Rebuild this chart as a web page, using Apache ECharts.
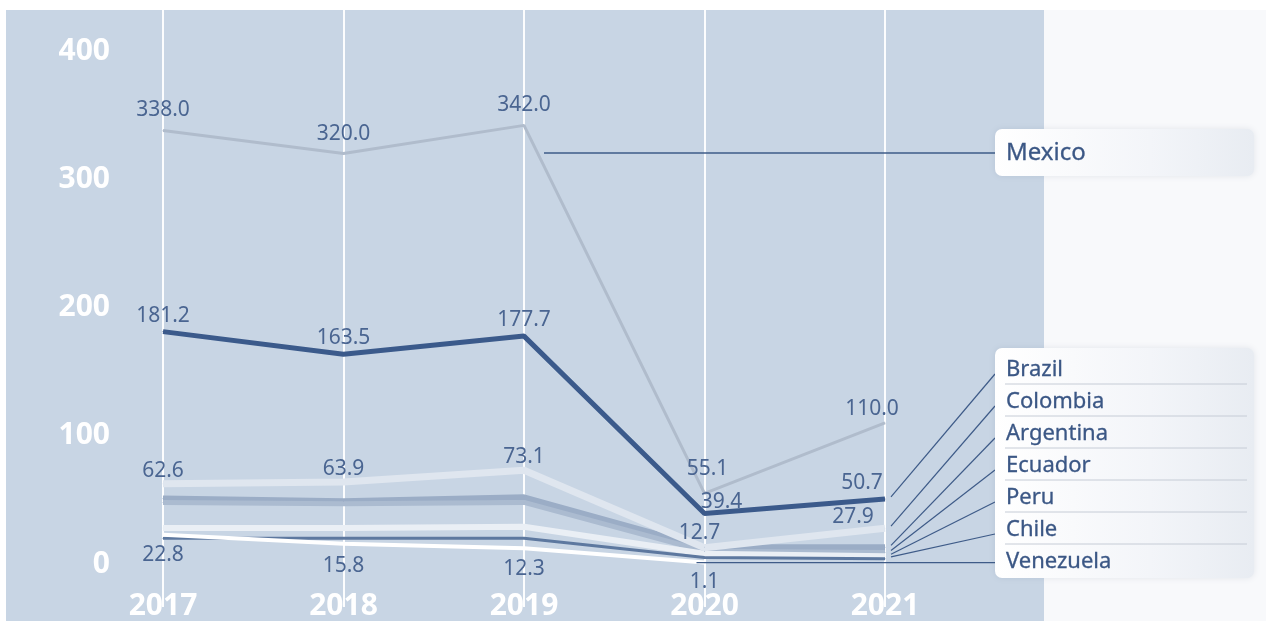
<!DOCTYPE html>
<html><head><meta charset="utf-8">
<script src="https://cdn.jsdelivr.net/npm/echarts@6/dist/echarts.min.js"></script>
<style>html,body{margin:0;padding:0;background:#fbfcfd}#c{width:1266px;height:621px}</style>
</head><body><div id="c"></div>
<script>
// ---- data ----
const years = ['2017', '2018', '2019', '2020', '2021'];
const yTicks = [0, 100, 200, 300, 400];
const mexico = [338.0, 320.0, 342.0, 55.1, 110.0];
const brazil = [181.2, 163.5, 177.7, 39.4, 50.7];
const colombia = [62.6, 63.9, 73.1, 12.7, 27.9];
const argentina = [51, 49, 52, 13, 13];
const ecuador = [48, 47, 48, 10, 9];
const peru = [28, 28, 29, 8, 6];
const chile = [20, 20, 20, 5, 4];
const venezuela = [22.8, 15.8, 12.3, 1.1, null];
const legendRows = ['Brazil', 'Colombia', 'Argentina', 'Ecuador', 'Peru', 'Chile', 'Venezuela'];

// ---- styling ----
const FONT = '"Noto Sans", "Liberation Sans", sans-serif';
const LBL = '#4a6591';
const seriesDefs = [
  { name: 'Mexico', data: mexico, color: '#b0bccc', width: 3, label: 'top', dist: 9,
    offsets: { 3: [3, -4], 4: [-13, 6] } },
  { name: 'Argentina', data: argentina, color: '#9badc6', width: 6 },
  { name: 'Ecuador', data: ecuador, color: '#abbbd0', width: 5 },
  { name: 'Peru', data: peru, color: '#eaeff5', width: 6 },
  { name: 'Chile', data: chile, color: '#5d789f', width: 3 },
  { name: 'Colombia', data: colombia, color: '#dfe6ef', width: 7, label: 'top', dist: 2,
    offsets: { 3: [-5, -2], 4: [-32, 2] } },
  { name: 'Venezuela', data: venezuela, color: '#ffffff', width: 4, label: 'bottom', dist: 9,
    offsets: { 1: [0, 2], 2: [0, 1], 3: [0, -1] } },
  { name: 'Brazil', data: brazil, color: '#3b5a8b', width: 5, label: 'top', dist: 5,
    offsets: { 3: [17, 5], 4: [-23, 0] } }
];

const series = seriesDefs.map(d => ({
  name: d.name,
  type: 'line',
  xAxisIndex: 1, yAxisIndex: 1,
  symbol: 'circle',
  symbolSize: 1,
  showSymbol: true,
  itemStyle: { color: d.color },
  silent: true,
  lineStyle: { color: d.color, width: d.width },
  emphasis: { disabled: true },
  label: d.label ? {
    show: true, position: d.label, distance: d.dist,
    color: LBL, fontSize: 21, fontFamily: FONT,
    formatter: p => (p.value == null ? '' : Number(p.value).toFixed(1))
  } : { show: false },
  data: d.data.map((v, i) => {
    const item = { value: v };
    if (d.offsets && d.offsets[i]) item.label = { offset: d.offsets[i] };
    return item;
  })
}));

const chart = echarts.init(document.getElementById('c'));
const option = {
  backgroundColor: '#f8f9fb',
  animation: false,
  grid: [
    { left: 163, right: 381, top: 10, bottom: 0 },
    { left: 163, right: 381, top: 51, bottom: 57 }
  ],
  xAxis: [
    { gridIndex: 0, type: 'category', data: years, boundaryGap: false,
      axisLine: { show: false }, axisTick: { show: false },
      splitLine: { show: true, lineStyle: { color: 'rgba(255,255,255,0.95)', width: 2 } },
      axisLabel: { color: '#ffffff', fontWeight: 'bold', fontSize: 30, fontFamily: FONT, margin: -16 } },
    { gridIndex: 1, type: 'category', data: years, boundaryGap: false, show: false }
  ],
  yAxis: [
    { gridIndex: 0, type: 'value', show: false },
    { gridIndex: 1, type: 'value', min: yTicks[0], max: yTicks[yTicks.length - 1], interval: 100,
      axisLine: { show: false }, axisTick: { show: false }, splitLine: { show: false },
      axisLabel: { color: '#ffffff', fontWeight: 'bold', fontSize: 30, fontFamily: FONT, margin: 53 } }
  ],
  series: series,
  graphic: [
    { type: 'rect', z: -100, silent: true, shape: { x: 0, y: 0, width: 1266, height: 10 }, style: { fill: '#ffffff' } },
    { type: 'rect', z: -100, silent: true, shape: { x: 0, y: 0, width: 6, height: 621 }, style: { fill: '#ffffff' } },
    { type: 'rect', z: -100, silent: true, shape: { x: 6, y: 10, width: 1038, height: 611 }, style: { fill: '#c8d5e4' } }
  ]
};
chart.setOption(option);

// ---- legend boxes and leader lines ----
const px = (i, v) => chart.convertToPixel({ gridIndex: 1 }, [i, v]);
const boxX = 995, boxW = 259;
const rowTop = 354, rowH = 32;
const els = [];
const boxFill = new echarts.graphic.LinearGradient(0, 0, 1, 0, [
  { offset: 0, color: '#ffffff' }, { offset: 0.6, color: '#f3f5f9' }, { offset: 1, color: '#e8ecf2' }
]);
const TXT = '#3b5785';
// Mexico box
els.push({ type: 'rect', z: 50, silent: true, shape: { x: boxX, y: 129, width: boxW, height: 47, r: 7 },
  style: { fill: boxFill, shadowBlur: 6, shadowColor: 'rgba(60,80,110,0.12)' } });
els.push({ type: 'text', z: 51, silent: true, style: { x: 1006, y: 153, text: 'Mexico', fill: TXT,
  font: '24px "Noto Sans", sans-serif', textVerticalAlign: 'middle', stroke: TXT, lineWidth: 0.3 } });
const m2019 = px(2, mexico[2]);
els.push({ type: 'line', z: 40, silent: true, shape: { x1: m2019[0] + 20, y1: 153, x2: boxX, y2: 153 },
  style: { stroke: '#3e5b88', lineWidth: 1.5 } });
// Bottom box
els.push({ type: 'rect', z: 50, silent: true, shape: { x: boxX, y: 348, width: boxW, height: 230, r: 7 },
  style: { fill: boxFill, shadowBlur: 6, shadowColor: 'rgba(60,80,110,0.12)' } });
const dataByName = { Brazil: brazil, Colombia: colombia, Argentina: argentina, Ecuador: ecuador,
  Peru: peru, Chile: chile, Venezuela: venezuela };
legendRows.forEach((name, k) => {
  const cy = rowTop + rowH * k + 16;
  els.push({ type: 'text', z: 51, silent: true, style: { x: 1006, y: cy, text: name, fill: TXT,
    font: '22px "Noto Sans", sans-serif', textVerticalAlign: 'middle', stroke: TXT, lineWidth: 0.3 } });
  if (k < legendRows.length - 1) {
    els.push({ type: 'line', z: 51, silent: true, shape: { x1: 1005, y1: rowTop + rowH * (k + 1) - 2, x2: 1247, y2: rowTop + rowH * (k + 1) - 2 },
      style: { stroke: '#c6ccd6', lineWidth: 1 } });
  }
  const arr = dataByName[name];
  let last = arr.length - 1;
  while (arr[last] == null) last--;
  const p = px(last, arr[last]);
  let x1, y1, y2;
  if (last < arr.length - 1) { x1 = p[0] - 8; y1 = p[1]; y2 = p[1]; }
  else { x1 = p[0] + 6; y1 = p[1] - 2; y2 = cy + 4; }
  els.push({ type: 'line', z: 40, silent: true, shape: { x1: x1, y1: y1, x2: boxX, y2: y2 },
    style: { stroke: '#3e5b88', lineWidth: 1.2 } });
});
chart.setOption({ graphic: option.graphic.concat(els) });
</script>
</body></html>
